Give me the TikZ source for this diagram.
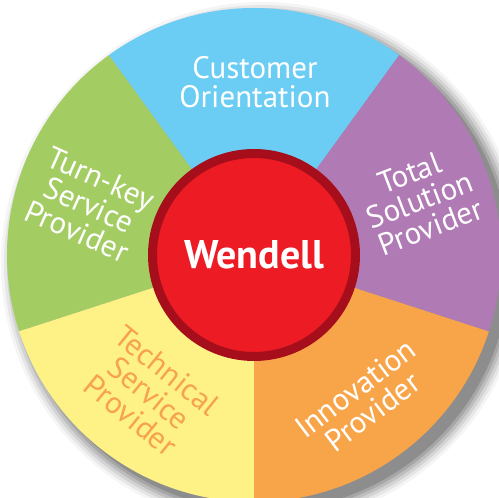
\documentclass[tikz,border=0pt]{standalone}
\usepackage{fontspec}
\setmainfont{PT Sans}
\usetikzlibrary{calc}
\definecolor{cblue}{HTML}{6BCDF3}
\definecolor{cgreen}{HTML}{A3CD63}
\definecolor{cpurple}{HTML}{B07AB5}
\definecolor{corange}{HTML}{F8A54A}
\definecolor{cyellow}{HTML}{FEF287}
\definecolor{cred}{HTML}{ED1C24}
\definecolor{cdark}{HTML}{A50E1A}
\definecolor{ctext}{HTML}{F7A24C}
\tikzset{
  seglabel/.style={text=white, align=center, font=\fontsize{31}{29}\selectfont, inner sep=0pt},
}
\begin{document}
\begin{tikzpicture}[x=1pt,y=1pt]
\useasboundingbox (0,0) rectangle (499,498);
\fill[white] (0,0) rectangle (499,498);
\coordinate (c) at (254,243);
% shadow
\foreach \r/\o in {262/0.04,259/0.06,256/0.08,253/0.10,250/0.12,247/0.15}{
  \fill[black,opacity=\o] ($(c)+(9,-9)$) circle (\r);
}
\fill[cblue]   (c) -- ++(54:247) arc (54:126:247) -- cycle;
\fill[cgreen]  (c) -- ++(126:247) arc (126:198:247) -- cycle;
\fill[cyellow] (c) -- ++(198:247) arc (198:270:247) -- cycle;
\fill[corange] (c) -- ++(270:247) arc (270:342:247) -- cycle;
\fill[cpurple] (c) -- ++(-18:247) arc (-18:54:247) -- cycle;
\node[circle, fill=cred, draw=cdark, line width=9pt, minimum size=203pt, inner sep=0pt,
  text=white, font=\fontsize{40}{40}\selectfont\bfseries] (w) at (c) {Wendell};
\node[seglabel] (co) at (255,416) {Customer\\Orientation};
\node[seglabel, rotate=-24] (tk) at (89,293) {Turn-key\\Service\\Provider};
\node[seglabel, rotate=21] (ts) at (420,298) {Total\\Solution\\Provider};
\node[seglabel, rotate=-39, text=ctext] (tech) at (149,105) {Technical\\Service\\Provider};
\node[seglabel, rotate=37] (ip) at (364,98) {Innovation\\Provider};
\end{tikzpicture}
\end{document}
